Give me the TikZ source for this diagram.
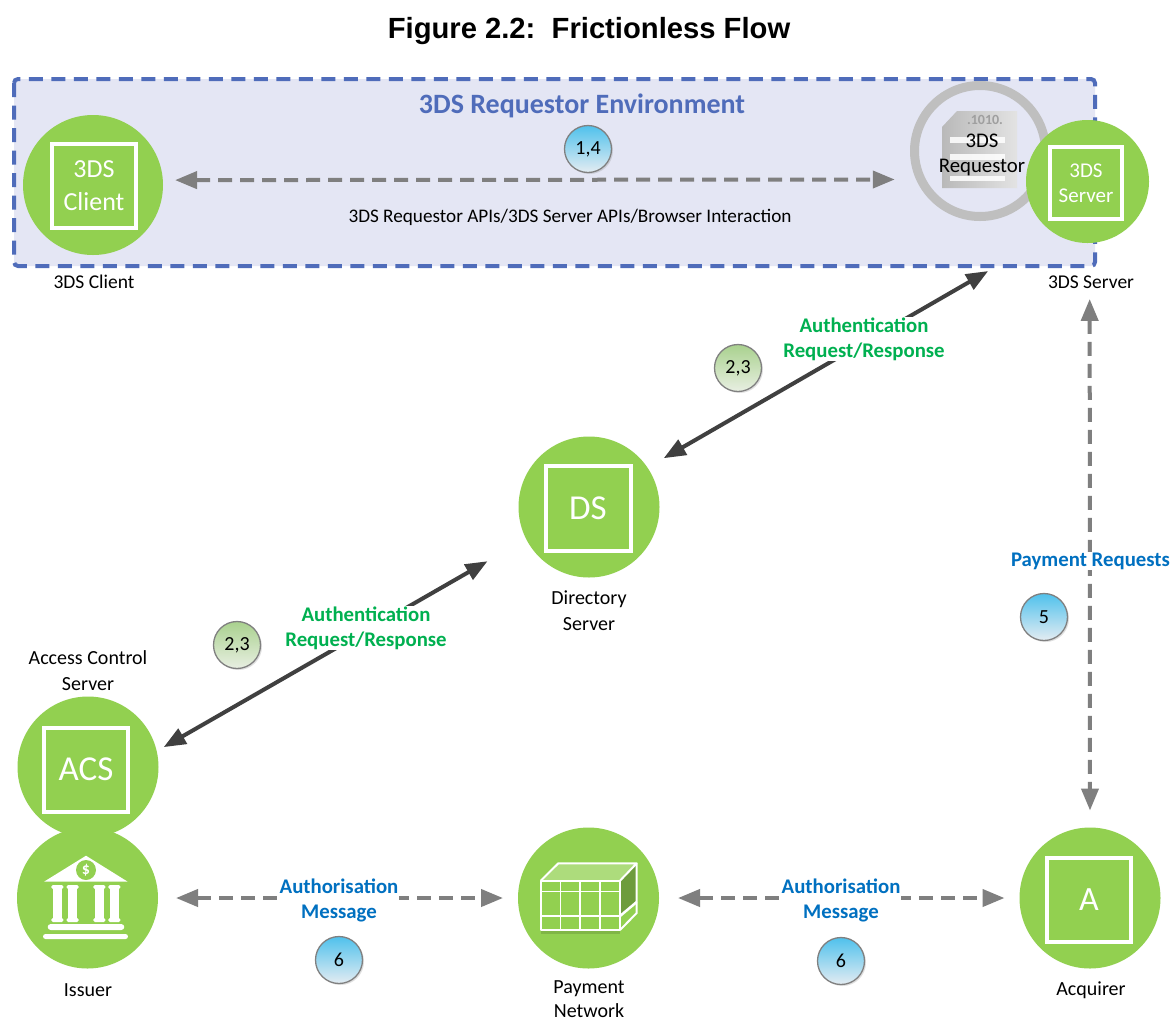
\documentclass[tikz,border=0pt]{standalone}
\usepackage{fontspec}
\setmainfont{Carlito}
\newfontfamily\titlefont{Liberation Sans}
\usetikzlibrary{arrows.meta,shadings,shadows,calc}
\definecolor{gr}{HTML}{92D050}
\definecolor{envfill}{HTML}{E4E6F4}
\definecolor{envblue}{HTML}{4F6CBA}
\definecolor{dashgray}{HTML}{7F7F7F}
\definecolor{darkline}{HTML}{404040}
\definecolor{msggreen}{HTML}{00B050}
\definecolor{msgblue}{HTML}{0070C0}
\definecolor{ringgray}{HTML}{BFBFBF}
\definecolor{bubbleblueA}{HTML}{4FC1EC}
\definecolor{bubbleblueB}{HTML}{E4ECF2}
\definecolor{bubblegreenA}{HTML}{A9D18E}
\definecolor{bubblegreenB}{HTML}{E8EFE2}
\tikzset{
  x=1pt,y=-1pt,
  bigcirc/.style={circle,fill=gr,minimum size=141pt,inner sep=0pt,outer sep=0pt},
  squarebox/.style={draw=white,line width=4pt,fill=none,inner sep=0pt,outer sep=0pt,text=white,align=center},
  caption/.style={align=center,text=black,font=\fontsize{20}{26}\selectfont,inner sep=0pt},
  smallcaption/.style={caption,font=\fontsize{19.5}{26}\selectfont},
  msg/.style={align=center,font=\fontsize{20.8}{25}\selectfont\bfseries,fill=white,inner sep=1pt},
  bubble/.style={circle,draw=gray,line width=1.3pt,minimum size=47pt,inner sep=0pt,text=black,font=\fontsize{20}{22}\selectfont,drop shadow={opacity=.25,shadow xshift=1.5pt,shadow yshift=-1.5pt}},
  bluebubble/.style={bubble,top color=bubbleblueA,bottom color=bubbleblueB},
  greenbubble/.style={bubble,top color=bubblegreenA,bottom color=bubblegreenB},
  dashlink/.style={draw=dashgray,line width=4pt,dash pattern=on 14pt off 8pt,{Triangle[length=22pt,width=17pt]}-{Triangle[length=22pt,width=17pt]}},
  solidlink/.style={draw=darkline,line width=4pt,{Triangle[length=22pt,width=17pt]}-{Triangle[length=22pt,width=17pt]}},
  iconwhite/.style={fill=white,draw=none},
}
\begin{document}
\begin{tikzpicture}
\useasboundingbox (0,0) rectangle (1172,1021);
\fill[white] (0,0) rectangle (1172,1021);
% Title
\node[font=\titlefont\fontsize{29.2}{34}\selectfont\bfseries,inner sep=0pt] (title) at (589,31) {Figure 2.2:\ \ Frictionless Flow};
% Environment
\draw[fill=envfill,draw=envblue,line width=4pt,dash pattern=on 14pt off 8.5pt,rounded corners=4pt] (14,79) rectangle (1095,266);
\node[font=\fontsize{28}{32}\selectfont\bfseries,text=envblue,inner sep=0pt] (envtitle) at (582,106) {3DS Requestor Environment};
% Requestor
\node[circle,draw=ringgray,line width=9pt,minimum size=131pt,inner sep=0pt,outer sep=4.5pt] (req) at (980,151) {};
\shade[left color=gray!55,right color=gray!22] (942,127) -- (957,111) -- (1017,111) -- (1017,188) -- (942,188) -- cycle;
\fill[white,opacity=.85] (950,137) rectangle (1005,143);
\fill[white,opacity=.85] (950,154) rectangle (1005,160);
\fill[white,opacity=.85] (950,176) rectangle (1005,181);
\node[font=\fontsize{14}{14}\selectfont\bfseries,text=gray!75,inner sep=0pt] (reqbits) at (985,120) {.1010.};
\node[font=\fontsize{20.8}{25}\selectfont,align=center,text=black,inner sep=0pt] (reqtext) at (982,155) {3DS\\Requestor};
% Circles
\node[bigcirc,minimum size=140pt] (client) at (93,185) {};
\node[squarebox,minimum size=84pt,font=\fontsize{26}{33}\selectfont] (clientbox) at (94,186) {3DS\\Client};
\node[bigcirc,minimum size=123pt] (server) at (1087.5,181.5) {};
\node[squarebox,minimum size=72pt,font=\fontsize{21}{25}\selectfont] (serverbox) at (1086,183) {3DS\\Server};
\node[bigcirc] (ds) at (589,507) {};
\node[squarebox,minimum size=85pt,font=\fontsize{35}{38}\selectfont] (dsbox) at (588,508) {DS};
\node[bigcirc] (acs) at (88,767) {};
\node[squarebox,minimum size=84pt,font=\fontsize{35}{38}\selectfont] (acsbox) at (86,769.5) {ACS};
\node[bigcirc] (issuer) at (87.5,898) {};
\node[bigcirc] (network) at (588.5,898) {};
\node[bigcirc] (acquirer) at (1090,898) {};
\node[squarebox,minimum size=84pt,font=\fontsize{34}{38}\selectfont] (acqbox) at (1089,900) {A};
% Bank icon
\fill[iconwhite] (44,881.7) -- (86,855.7) -- (127.7,881.7) -- cycle;
\fill[gr] (86,870) circle (10);
\node[text=white,font=\fontsize{16}{16}\selectfont\bfseries,inner sep=0pt] (dollar) at (86,870) {\$};
\foreach \cx in {57.3,72.7,99.3,114.3}{
  \fill[iconwhite] (\cx-4.5,888) rectangle (\cx+4.5,919);
  \fill[iconwhite,rounded corners=1.5pt] (\cx-6,885) rectangle (\cx+6,889);
  \fill[iconwhite,rounded corners=1.5pt] (\cx-6,918) rectangle (\cx+6,922);
}
\fill[iconwhite,rounded corners=3pt] (47.7,924) rectangle (124.3,930);
\fill[iconwhite,rounded corners=2.5pt] (43,934) rectangle (128,939);
% Cube table icon
\fill[black,opacity=.12] (541,930) rectangle (620,934);
\fill[gr!75!white] (540.7,880.7) -- (558.3,863.3) -- (636.7,863.3) -- (620,880.7) -- cycle;
\fill[gr!75!black] (620,880.7) -- (636.7,863.3) -- (636.7,902) -- (620,916) -- cycle;
\draw[white,line width=2pt,line join=round] (540.7,880.7) -- (558.3,863.3) -- (636.7,863.3) -- (620,880.7);
\draw[white,line width=2pt,line join=round] (636.7,863.3) -- (636.7,913) -- (620,930);
\draw[white,line width=2.5pt] (620,916) -- (636.7,902);
\draw[white,line width=2pt,line join=round] (540.7,880.7) rectangle (620,930);
\draw[white,line width=1.5pt] (540.7,891.7) -- (620,891.7);
\draw[white,line width=2.5pt] (540.7,916) -- (620,916);
\foreach \cx in {560.7,580,600}{\draw[white,line width=1.5pt] (\cx,880.7) -- (\cx,930);}
% Connectors
\draw[dashlink,shorten <=12.2pt,shorten >=21.3pt] (client.4.1) -- (req.204.5);
\draw[solidlink,shorten <=18.8pt,shorten >=76pt] (ds.34.5) -- (server.237.8);
\draw[solidlink,shorten <=44.6pt,shorten >=8.1pt] (ds.207) -- (acs.13.2);
\draw[dashlink,shorten <=56pt,shorten >=17pt] (server.272.9) -- (acquirer.north);
\draw[dashlink,shorten <=18pt,shorten >=15pt] (issuer.east) -- (network.west);
\draw[dashlink,shorten <=19pt,shorten >=15pt] (network.east) -- (acquirer.west);
% Bubbles
\node[bluebubble] (b14) at (588,149) {1,4};
\node[greenbubble] (b23a) at (738,368) {2,3};
\node[greenbubble] (b23b) at (237,645) {2,3};
\node[bluebubble] (b5) at (1044,617) {5};
\node[bluebubble] (b6a) at (339,960) {6};
\node[bluebubble] (b6b) at (841,961) {6};
% Messages
\node[caption,font=\fontsize{19.2}{22}\selectfont] (apis) at (570,217) {3DS Requestor APIs/3DS Server APIs/Browser Interaction};
\node[msg,text=msggreen] (auth1) at (864,339) {Authentication\\Request/Response};
\node[msg,text=msggreen] (auth2) at (366,628) {Authentication\\Request/Response};
\node[msg,text=msgblue] (pay) at (1090.5,561) {Payment Requests};
\node[msg,text=msgblue] (msg1) at (339,900) {Authorisation\\Message};
\node[msg,text=msgblue] (msg2) at (841,900) {Authorisation\\Message};
% Captions
\node[smallcaption] (c1) at (94,282) {3DS Client};
\node[smallcaption] (c2) at (1091,282) {3DS Server};
\node[caption] (c3) at (589,611) {Directory\\Server};
\node[caption] (c4) at (88,671) {Access Control\\Server};
\node[caption] (c5) at (88,990) {Issuer};
\node[caption,font=\fontsize{20}{24}\selectfont] (c6) at (589,999.5) {Payment\\Network};
\node[caption] (c7) at (1091,990) {Acquirer};
\end{tikzpicture}
\end{document}
